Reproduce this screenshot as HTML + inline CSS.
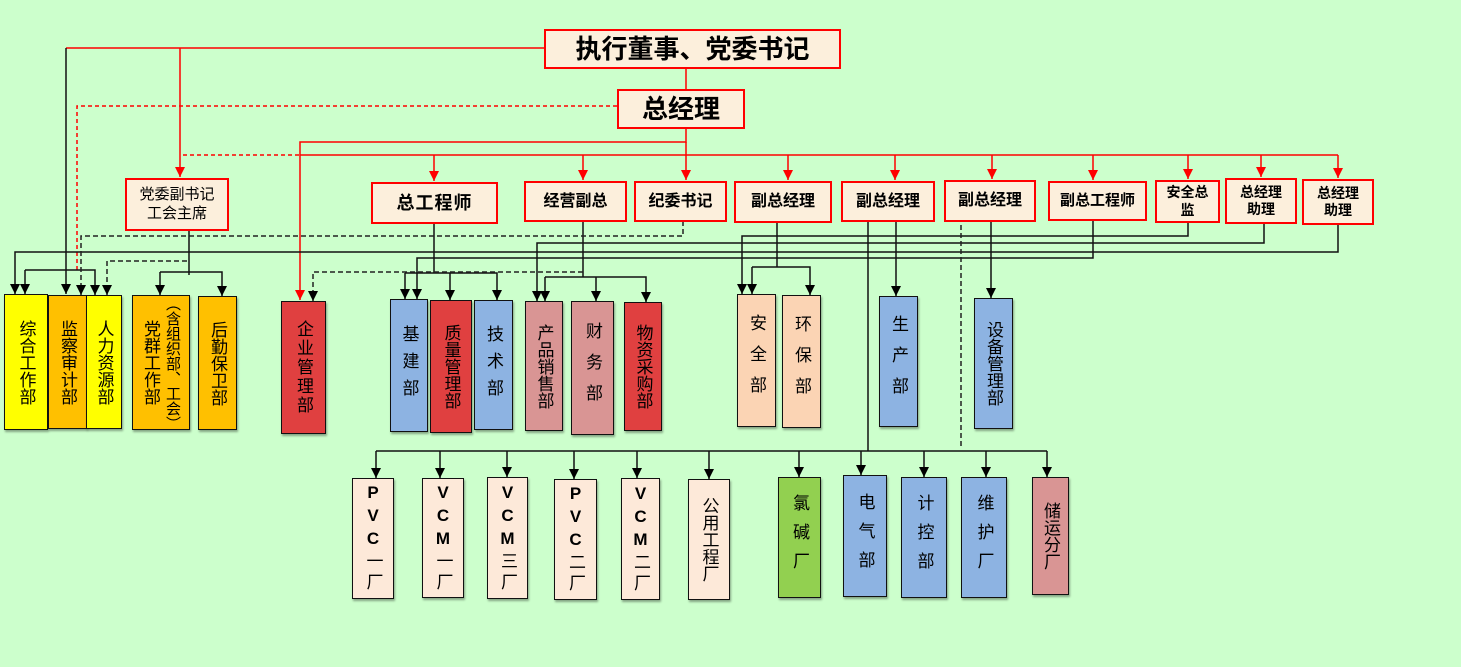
<!DOCTYPE html>
<html><head><meta charset="utf-8">
<style>
html,body{margin:0;padding:0;}
body{width:1461px;height:667px;background:#CCFFCC;position:relative;overflow:hidden;font-family:"Liberation Sans","Noto Sans CJK SC",sans-serif;}
.b{position:absolute;box-sizing:border-box;display:flex;align-items:center;justify-content:center;text-align:center;color:#000;}
.t{border:2px solid #f00;background:#FCEFDC;font-weight:bold;line-height:1.25;}
.d{border:1.5px solid #111;box-shadow:1px 2px 2px rgba(0,0,0,0.35);font-size:17px;}
.v{writing-mode:vertical-lr;text-orientation:upright;}
svg{position:absolute;left:0;top:0;}
</style></head><body>
<svg width="1461" height="667" viewBox="0 0 1461 667">
<defs>
<marker id="ak" markerWidth="10" markerHeight="10" refX="10" refY="5" orient="auto" markerUnits="userSpaceOnUse" viewBox="0 0 10 10"><path d="M0,0 L10,5 L0,10 z" fill="#000"/></marker>
<marker id="ar" markerWidth="10" markerHeight="10" refX="10" refY="5" orient="auto" markerUnits="userSpaceOnUse" viewBox="0 0 10 10"><path d="M0,0 L10,5 L0,10 z" fill="#f00"/></marker>
</defs>
<g stroke="#f00" stroke-width="1.5" fill="none">
<line x1="686" y1="68" x2="686" y2="89"/>
<polyline points="544,48 66,48"/>
<line x1="180" y1="48" x2="180" y2="177" marker-end="url(#ar)"/>
<polyline points="686,128 686,142 300,142 300,300" marker-end="url(#ar)"/>
<line x1="300" y1="155" x2="1338" y2="155"/>
<line x1="183" y1="155" x2="300" y2="155" stroke-dasharray="4,3"/>
<polyline points="617,106 77,106 77,270" stroke-dasharray="4,3"/>
<line x1="434" y1="155" x2="434" y2="181" marker-end="url(#ar)"/>
<line x1="583" y1="155" x2="583" y2="180" marker-end="url(#ar)"/>
<line x1="686" y1="142" x2="686" y2="180" marker-end="url(#ar)"/>
<line x1="788" y1="155" x2="788" y2="180" marker-end="url(#ar)"/>
<line x1="895" y1="155" x2="895" y2="180" marker-end="url(#ar)"/>
<line x1="992" y1="155" x2="992" y2="179" marker-end="url(#ar)"/>
<line x1="1093" y1="155" x2="1093" y2="180" marker-end="url(#ar)"/>
<line x1="1188" y1="155" x2="1188" y2="179" marker-end="url(#ar)"/>
<line x1="1261" y1="155" x2="1261" y2="177" marker-end="url(#ar)"/>
<line x1="1338" y1="155" x2="1338" y2="178" marker-end="url(#ar)"/>
</g>
<g stroke="#111" stroke-width="1.5" fill="none">
<line x1="66" y1="48" x2="66" y2="294" marker-end="url(#ak)"/>
<polyline points="1338,224 1338,252 15,252 15,294" marker-end="url(#ak)"/>
<polyline points="25,270 95,270 95,295" marker-end="url(#ak)"/>
<line x1="25" y1="270" x2="25" y2="294" marker-end="url(#ak)"/>
<polyline points="189,230 189,275"/>
<polyline points="160,272 222,272 222,296" marker-end="url(#ak)"/>
<line x1="160" y1="272" x2="160" y2="295" marker-end="url(#ak)"/>
<polyline points="1188,222 1188,236 742,236 742,294" marker-end="url(#ak)"/>
<polyline points="1264,223 1264,243 537,243 537,301" marker-end="url(#ak)"/>
<polyline points="1093,220 1093,258 417,258 417,299" marker-end="url(#ak)"/>
<line x1="434" y1="223" x2="434" y2="273"/>
<polyline points="405,273 497,273 497,300" marker-end="url(#ak)"/>
<line x1="405" y1="273" x2="405" y2="299" marker-end="url(#ak)"/>
<line x1="450" y1="273" x2="450" y2="300" marker-end="url(#ak)"/>
<line x1="583" y1="221" x2="583" y2="277"/>
<polyline points="545,277 646,277 646,302" marker-end="url(#ak)"/>
<line x1="545" y1="277" x2="545" y2="301" marker-end="url(#ak)"/>
<line x1="596" y1="277" x2="596" y2="301" marker-end="url(#ak)"/>
<line x1="777" y1="222" x2="777" y2="267"/>
<polyline points="752,267 810,267 810,295" marker-end="url(#ak)"/>
<line x1="752" y1="267" x2="752" y2="294" marker-end="url(#ak)"/>
<line x1="896" y1="221" x2="896" y2="296" marker-end="url(#ak)"/>
<line x1="991" y1="221" x2="991" y2="298" marker-end="url(#ak)"/>
<line x1="868" y1="221" x2="868" y2="451"/>
<line x1="376" y1="451" x2="1047" y2="451"/>
<line x1="376" y1="451" x2="376" y2="478" marker-end="url(#ak)"/>
<line x1="440" y1="451" x2="440" y2="478" marker-end="url(#ak)"/>
<line x1="507" y1="451" x2="507" y2="477" marker-end="url(#ak)"/>
<line x1="574" y1="451" x2="574" y2="479" marker-end="url(#ak)"/>
<line x1="637" y1="451" x2="637" y2="478" marker-end="url(#ak)"/>
<line x1="709" y1="451" x2="709" y2="479" marker-end="url(#ak)"/>
<line x1="799" y1="451" x2="799" y2="477" marker-end="url(#ak)"/>
<line x1="861" y1="451" x2="861" y2="475" marker-end="url(#ak)"/>
<line x1="924" y1="451" x2="924" y2="477" marker-end="url(#ak)"/>
<line x1="986" y1="451" x2="986" y2="477" marker-end="url(#ak)"/>
<line x1="1047" y1="451" x2="1047" y2="477" marker-end="url(#ak)"/>
</g>
<g stroke="#222" stroke-width="1.5" fill="none" stroke-dasharray="5,3">
<polyline points="683,221 683,236 81,236 81,295" marker-end="url(#ak)"/>
<polyline points="187,261 107,261 107,295" marker-end="url(#ak)"/>
<polyline points="583,272 313,272 313,301" marker-end="url(#ak)"/>
<line x1="961" y1="225" x2="961" y2="447"/>
</g>
</svg>

<div class="b t" style="left:544px;top:29px;width:297px;height:40px;font-size:26px;">执行董事、党委书记</div>
<div class="b t" style="left:617px;top:89px;width:128px;height:40px;font-size:26px;">总经理</div>

<div class="b t" style="left:125px;top:178px;width:104px;height:53px;font-size:15px;font-weight:normal;">党委副书记<br>工会主席</div>
<div class="b t" style="left:371px;top:182px;width:127px;height:42px;font-size:18px;letter-spacing:1px;">总工程师</div>
<div class="b t" style="left:524px;top:181px;width:103px;height:41px;font-size:16px;">经营副总</div>
<div class="b t" style="left:634px;top:181px;width:93px;height:41px;font-size:16px;">纪委书记</div>
<div class="b t" style="left:734px;top:181px;width:98px;height:42px;font-size:16px;">副总经理</div>
<div class="b t" style="left:841px;top:181px;width:94px;height:41px;font-size:16px;">副总经理</div>
<div class="b t" style="left:944px;top:180px;width:92px;height:42px;font-size:16px;">副总经理</div>
<div class="b t" style="left:1048px;top:181px;width:99px;height:40px;font-size:15px;">副总工程师</div>
<div class="b t" style="left:1155px;top:180px;width:65px;height:43px;font-size:14px;">安全总<br>监</div>
<div class="b t" style="left:1225px;top:178px;width:72px;height:46px;font-size:14px;">总经理<br>助理</div>
<div class="b t" style="left:1302px;top:179px;width:72px;height:46px;font-size:14px;">总经理<br>助理</div>

<div class="b d" style="left:4px;top:294px;width:44px;height:136px;background:#FFFF00;"><span class="v">综合工作部</span></div>
<div class="b d" style="left:48px;top:295px;width:39px;height:134px;background:#FFC000;"><span class="v">监察审计部</span></div>
<div class="b d" style="left:86px;top:295px;width:36px;height:134px;background:#FFFF00;"><span class="v">人力资源部</span></div>
<div class="b d" style="left:132px;top:295px;width:58px;height:135px;background:#FFC000;"><span class="v" style="line-height:22px;">党群工作部 <span style="font-size:15px;">（含组织部、工会）</span></span></div>
<div class="b d" style="left:198px;top:296px;width:39px;height:134px;background:#FFC000;"><span class="v">后勤保卫部</span></div>
<div class="b d" style="left:281px;top:301px;width:45px;height:133px;background:#E04040;"><span class="v" style="letter-spacing:2px;">企业管理部</span></div>
<div class="b d" style="left:390px;top:299px;width:38px;height:133px;background:#8DB3E2;"><span class="v" style="letter-spacing:10px;">基建部</span></div>
<div class="b d" style="left:430px;top:300px;width:42px;height:133px;background:#E04040;"><span class="v">质量管理部</span></div>
<div class="b d" style="left:474px;top:300px;width:39px;height:130px;background:#8DB3E2;"><span class="v" style="letter-spacing:10px;">技术部</span></div>
<div class="b d" style="left:525px;top:301px;width:38px;height:130px;background:#D99594;"><span class="v">产品销售部</span></div>
<div class="b d" style="left:571px;top:301px;width:43px;height:134px;background:#D99594;"><span class="v" style="letter-spacing:14px;">财务部</span></div>
<div class="b d" style="left:624px;top:302px;width:38px;height:129px;background:#E04040;"><span class="v">物资采购部</span></div>
<div class="b d" style="left:737px;top:294px;width:39px;height:133px;background:#FBD4B4;"><span class="v" style="letter-spacing:14px;">安全部</span></div>
<div class="b d" style="left:782px;top:295px;width:39px;height:133px;background:#FBD4B4;"><span class="v" style="letter-spacing:14px;">环保部</span></div>
<div class="b d" style="left:879px;top:296px;width:39px;height:131px;background:#8DB3E2;"><span class="v" style="letter-spacing:14px;">生产部</span></div>
<div class="b d" style="left:974px;top:298px;width:39px;height:131px;background:#8DB3E2;"><span class="v">设备管理部</span></div>

<div class="b d" style="left:352px;top:478px;width:42px;height:121px;background:#FDE9D9;"><span class="v" style="letter-spacing:4px;"><b>PVC</b>一厂</span></div>
<div class="b d" style="left:422px;top:478px;width:42px;height:120px;background:#FDE9D9;"><span class="v" style="letter-spacing:4px;"><b>VCM</b>一厂</span></div>
<div class="b d" style="left:487px;top:477px;width:41px;height:122px;background:#FDE9D9;"><span class="v" style="letter-spacing:4px;"><b>VCM</b>三厂</span></div>
<div class="b d" style="left:554px;top:479px;width:43px;height:121px;background:#FDE9D9;"><span class="v" style="letter-spacing:4px;"><b>PVC</b>二厂</span></div>
<div class="b d" style="left:621px;top:478px;width:39px;height:122px;background:#FDE9D9;"><span class="v" style="letter-spacing:4px;"><b>VCM</b>二厂</span></div>
<div class="b d" style="left:688px;top:479px;width:42px;height:121px;background:#FDE9D9;"><span class="v" style="line-height:1;">公用工程厂</span></div>
<div class="b d" style="left:778px;top:477px;width:43px;height:121px;background:#92D050;"><span class="v" style="letter-spacing:12px;">氯碱厂</span></div>
<div class="b d" style="left:843px;top:475px;width:44px;height:122px;background:#8DB3E2;"><span class="v" style="letter-spacing:12px;">电气部</span></div>
<div class="b d" style="left:901px;top:477px;width:46px;height:121px;background:#8DB3E2;"><span class="v" style="letter-spacing:12px;">计控部</span></div>
<div class="b d" style="left:961px;top:477px;width:46px;height:121px;background:#8DB3E2;"><span class="v" style="letter-spacing:12px;">维护厂</span></div>
<div class="b d" style="left:1032px;top:477px;width:37px;height:118px;background:#D99594;"><span class="v">储运分厂</span></div>
</body></html>
